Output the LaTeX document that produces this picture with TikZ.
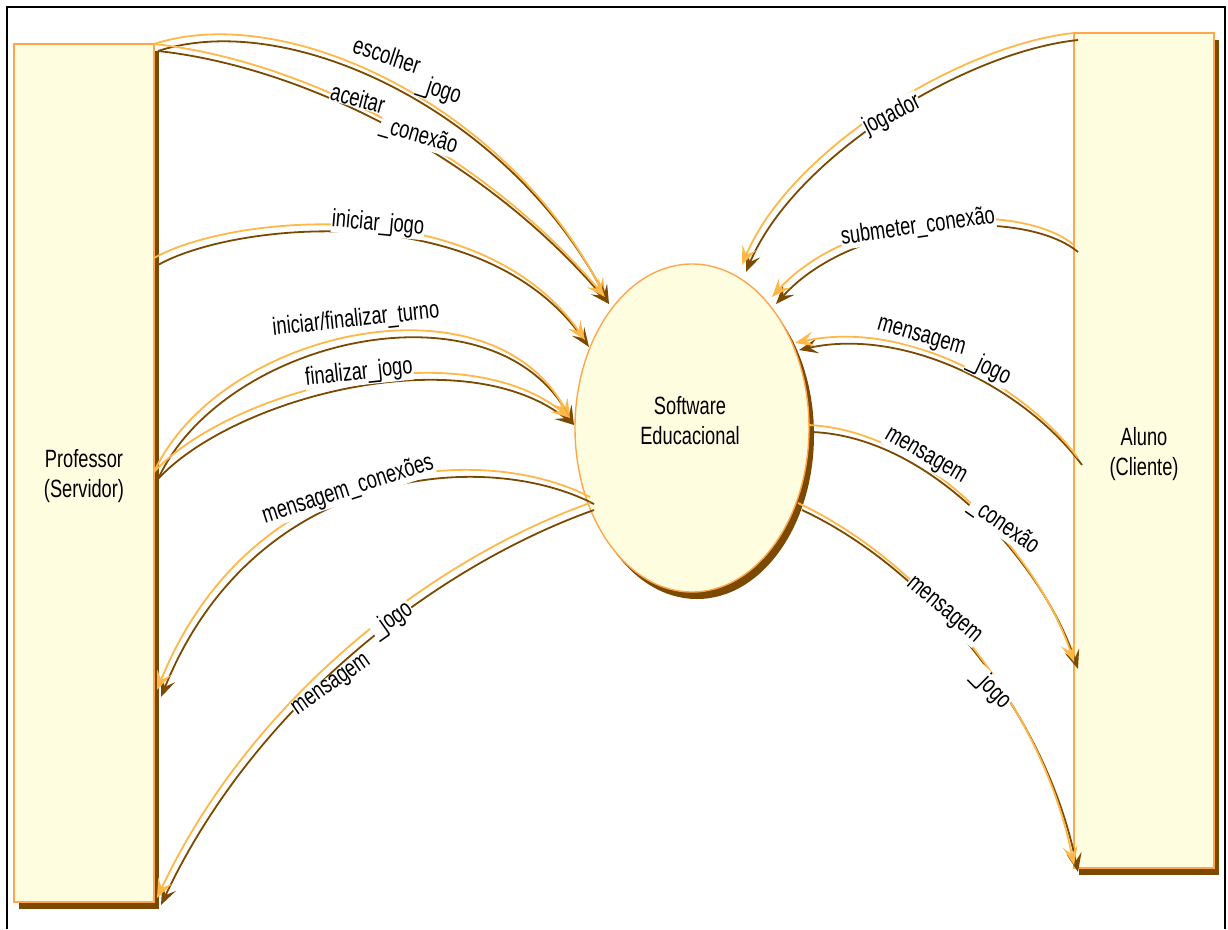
\documentclass[tikz,border=0pt]{standalone}
\usepackage{fontspec}
\setmainfont{Liberation Sans}[FakeStretch=0.73]
\usetikzlibrary{arrows.meta,shapes.geometric,shadows}

\definecolor{flowlight}{HTML}{FFB848}
\definecolor{flowdark}{HTML}{7B4A00}
\definecolor{entityfill}{HTML}{FFFDE0}
\definecolor{entityline}{HTML}{FFA64D}

\newcommand\lblfont{\fontsize{25}{30}\selectfont}

\tikzset{
  entity/.style={draw=entityline, line width=1.4pt, fill=entityfill,
    inner sep=0pt,
    drop shadow={shadow xshift=5pt, shadow yshift=-7pt, fill=flowdark, opacity=1}},
  entitytext/.style={align=center, inner sep=0pt, font=\lblfont},
  flowtip/.style={-{Stealth[length=19pt, width=15pt, inset=8pt]}},
  flowmain/.style={draw=flowlight, line width=1.8pt, flowtip},
  flowshade/.style={draw=flowdark, line width=1.8pt, flowtip,
    transform canvas={xshift=4pt, yshift=-7pt}},
  flowlabel/.style={fill=white, inner sep=0.5pt, font=\lblfont},
}

% a data flow: dark shade underneath, light line on top
\newcommand\dataflow[4]{%
  \draw[flowshade] (#1) .. controls #2 and #3 .. (#4);
  \draw[flowmain] (#1) .. controls #2 and #3 .. (#4);}

\begin{document}
\begin{tikzpicture}[x=1pt, y=-1pt]
\useasboundingbox (0,0) rectangle (1228,929);
\fill[white] (0,0) rectangle (1228,929);

% outer frame
\draw[line width=2.5pt] (7,929) -- (7,7) -- (1225,7) -- (1225,929);

% entities and process
\node[entity, minimum width=140pt, minimum height=858pt] (prof) at (84,473) {};
\node[entity, minimum width=140pt, minimum height=835pt] (aluno) at (1144,450.5) {};
\node[entity, ellipse, minimum width=234pt, minimum height=328pt] (soft) at (692,428) {};
\node[entitytext] (proftext) at (84,476.5) {Professor\\(Servidor)};
\node[entitytext] (alunotext) at (1144,454) {Aluno\\(Cliente)};
\node[entitytext] (softtext) at (690,421) {Software\\Educacional};

% end points of the flows
\coordinate (pTop) at (154,44);
\coordinate (pMid) at (154,258);
\coordinate (pLow) at (154,472);
\coordinate (pArrA) at (157,690);
\coordinate (pArrB) at (157,898);
\coordinate (sA) at (605,297);
\coordinate (sB) at (585,340);
\coordinate (sC) at (570,418);
\coordinate (sD) at (590,497);
\coordinate (sE) at (590,503);
\coordinate (sF) at (742,265);
\coordinate (sG) at (772,297);
\coordinate (sH) at (795,343);
\coordinate (sI) at (808,425);
\coordinate (sJ) at (798,503);
\coordinate (aTop) at (1074,33);
\coordinate (aB) at (1074,245);
\coordinate (aC) at (1078,458);
\coordinate (aArrA) at (1074,662);
\coordinate (aArrB) at (1074,865);

% flows from Professor
\dataflow{pTop}{(290,0)}{(510,110)}{sA}
\dataflow{pTop}{(300,60)}{(480,150)}{sA}
\dataflow{pMid}{(230,215)}{(480,190)}{sB}
\dataflow{pLow}{(220,330)}{(490,270)}{sC}
\dataflow{pLow}{(230,390)}{(460,330)}{sC}
% flows to Professor
\dataflow{sD}{(480,440)}{(250,460)}{pArrA}
\dataflow{sE}{(430,560)}{(250,700)}{pArrB}
% flows from Aluno
\dataflow{aTop}{(960,45)}{(790,150)}{sF}
\dataflow{aB}{(1020,200)}{(850,210)}{sG}
\dataflow{aC}{(1020,380)}{(900,320)}{sH}
% flows to Aluno
\dataflow{sI}{(930,430)}{(1040,560)}{aArrA}
\dataflow{sJ}{(920,560)}{(1040,700)}{aArrB}

% flow labels
\node[flowlabel, rotate=-18] (l1a) at (387,55) {escolher};
\node[flowlabel, rotate=-18] (l1b) at (439,91) {\_jogo};
\node[flowlabel, rotate=-15] (l2a) at (358,98) {aceitar};
\node[flowlabel, rotate=-16] (l2b) at (419,136) {\_conexão};
\node[flowlabel, rotate=-5] (l3) at (378,224) {iniciar\_jogo};
\node[flowlabel, rotate=6] (l4) at (356,320) {iniciar/finalizar\_turno};
\node[flowlabel, rotate=6] (l5) at (359,373) {finalizar\_jogo};
\node[flowlabel, rotate=18] (l6) at (348,490) {mensagem\_conexões};
\node[flowlabel, rotate=35] (l7a) at (332,686) {mensagem};
\node[flowlabel, rotate=35] (l7b) at (392,620) {\_jogo};
\node[flowlabel, rotate=27] (l8) at (892,115) {jogador};
\node[flowlabel, rotate=8] (l9) at (918,227) {submeter\_conexão};
\node[flowlabel, rotate=-16] (l10a) at (921,338) {mensagem};
\node[flowlabel, rotate=-25] (l10b) at (989,369) {\_jogo};
\node[flowlabel, rotate=-30] (l11a) at (925,457) {mensagem};
\node[flowlabel, rotate=-35] (l11b) at (1004,526) {\_conexão};
\node[flowlabel, rotate=-40] (l12a) at (943,611) {mensagem};
\node[flowlabel, rotate=-45] (l12b) at (991,689) {\_jogo};
\end{tikzpicture}
\end{document}
